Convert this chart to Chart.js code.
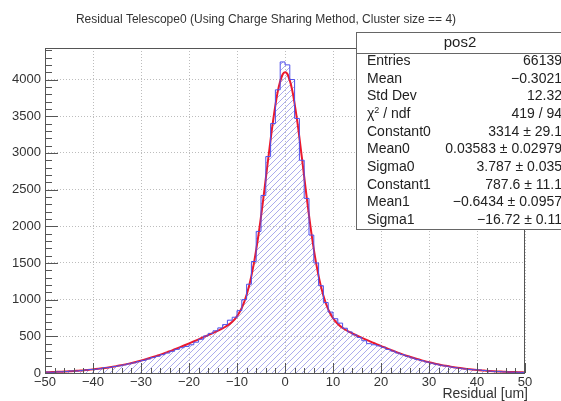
<!DOCTYPE html>
<html>
<head>
<meta charset="utf-8">
<script src="https://cdn.jsdelivr.net/npm/chart.js@4.4.1/dist/chart.umd.min.js"></script>
<style>
html, body { margin: 0; padding: 0; background: #fff; }
</style>
</head>
<body>
<canvas id="chart01" width="561" height="401"></canvas>
<script>
const histTitle = 'Residual Telescope0 (Using Charge Sharing Method, Cluster size == 4)';
const xTitle = 'Residual [um]';

// histogram: 100 bins of width 1 from -50 to 50
const binLow = -50;
const binWidth = 1;
const counts = [
    12, 10, 15, 17, 21, 28, 26, 33, 41, 47,
    51, 59, 72, 76, 88, 98, 110, 125, 138, 155,
    172, 190, 210, 228, 250, 272, 296, 322, 345, 362,
    385, 420, 460, 505, 540, 575, 615, 660, 720, 760,
    850, 1000, 1210, 1520, 1930, 2420, 2950, 3400, 3860, 4240,
    4200, 4000, 3470, 2900, 2380, 1880, 1500, 1190, 960, 830,
    740, 680, 610, 560, 520, 485, 440, 400, 385, 370,
    350, 322, 298, 272, 250, 228, 205, 186, 168, 150,
    134, 120, 106, 95, 82, 72, 64, 55, 48, 44,
    42, 34, 27, 22, 20, 16, 14, 11, 10, 8
];

// fit curve (red), read at bin centres
const fitX = [
    -50, -49.5, -48.5, -47.5, -46.5, -45.5, -44.5, -43.5, -42.5, -41.5, -40.5,
    -39.5, -38.5, -37.5, -36.5, -35.5, -34.5, -33.5, -32.5, -31.5, -30.5,
    -29.5, -28.5, -27.5, -26.5, -25.5, -24.5, -23.5, -22.5, -21.5, -20.5,
    -19.5, -18.5, -17.5, -16.5, -15.5, -14.5, -13.5, -12.5, -11.5, -10.5,
    -9.5, -8.5, -7.5, -6.5, -5.5, -4.5, -3.5, -2.5, -1.5, -0.5,
    0,
    0.5, 1.5, 2.5, 3.5, 4.5, 5.5, 6.5, 7.5, 8.5, 9.5,
    10.5, 11.5, 12.5, 13.5, 14.5, 15.5, 16.5, 17.5, 18.5, 19.5,
    20.5, 21.5, 22.5, 23.5, 24.5, 25.5, 26.5, 27.5, 28.5, 29.5,
    30.5, 31.5, 32.5, 33.5, 34.5, 35.5, 36.5, 37.5, 38.5, 39.5,
    40.5, 41.5, 42.5, 43.5, 44.5, 45.5, 46.5, 47.5, 48.5, 49.5, 50
];
const fitY = [
    10, 11, 13, 16, 18, 22, 25, 30, 34, 40, 46,
    53, 61, 69, 79, 90, 101, 114, 128, 143, 160,
    178, 197, 217, 238, 261, 285, 309, 335, 362, 389,
    417, 445, 474, 502, 531, 561, 592, 627, 670, 731,
    824, 966, 1182, 1488, 1893, 2384, 2919, 3431, 3839, 4069,
    4101,
    4075, 3856, 3456, 2945, 2405, 1906, 1491, 1175, 951, 801,
    704, 639, 593, 557, 525, 495, 466, 438, 409, 382,
    354, 328, 303, 278, 254, 232, 211, 191, 172, 155,
    139, 124, 110, 98, 87, 76, 67, 59, 51, 44,
    38, 33, 28, 24, 21, 18, 15, 13, 11, 9, 8
];

const xMin = -50, xMax = 50;
const yMin = 0, yMax = 4430;
const xTicks = [-50, -40, -30, -20, -10, 0, 10, 20, 30, 40, 50];
const yTicks = [0, 500, 1000, 1500, 2000, 2500, 3000, 3500, 4000];
const xMinor = 2, yMinor = 100;

const statName = 'pos2';
const statLabels = ['Entries', 'Mean', 'Std Dev', 'χ2 / ndf', 'Constant0', 'Mean0', 'Sigma0', 'Constant1', 'Mean1', 'Sigma1'];
const statValues = ['66139', '−0.3021', '12.32', '419 / 94', '3314 ± 29.1', '0.03583 ± 0.02979', '3.787 ± 0.035', '787.6 ± 11.1', '−0.6434 ± 0.0957', '−16.72 ± 0.11'];

const FONT = '"Liberation Sans", Arial, Helvetica, sans-serif';

const histData = counts.map((v, i) => ({x: binLow + i * binWidth, y: v}));
histData.push({x: binLow + counts.length * binWidth, y: counts[counts.length - 1]});

const fitData = fitX.map((x, i) => ({x: x, y: fitY[i]}));

function minus(v) {
    return String(v).replace('-', '−');
}

// hatched fill under the histogram, clipped to the dataset's own stepped path
const hatchFill = {
    id: 'hatchFill',
    beforeDatasetsDraw(chart) {
        const ctx = chart.ctx;
        const a = chart.chartArea;
        const meta = chart.getDatasetMeta(0);
        const pts = meta.data;
        const base = chart.scales.y.getPixelForValue(0);
        ctx.save();
        ctx.beginPath();
        meta.dataset.path(ctx);
        ctx.lineTo(pts[pts.length - 1].x, base);
        ctx.lineTo(pts[0].x, base);
        ctx.closePath();
        ctx.clip();
        ctx.strokeStyle = 'rgb(172,172,236)';
        ctx.lineWidth = 1;
        ctx.beginPath();
        const h = a.bottom - a.top;
        for (let k = a.left - h; k < a.right; k += 6) {
            ctx.moveTo(k, a.bottom);
            ctx.lineTo(k + h, a.top);
        }
        ctx.stroke();
        ctx.restore();
    }
};

const decor = {
    id: 'decor',
    afterDraw(chart) {
        const ctx = chart.ctx;
        const a = chart.chartArea;
        const xs = chart.scales.x, ys = chart.scales.y;
        ctx.save();
        // frame
        ctx.strokeStyle = '#555';
        ctx.lineWidth = 1;
        ctx.strokeRect(Math.round(a.left) + 0.5, Math.round(a.top) + 0.5, Math.round(a.right - a.left) - 1, Math.round(a.bottom - a.top));
        // ticks inside the frame
        ctx.beginPath();
        for (let v = yMin; v <= yMax; v += yMinor) {
            const y = Math.round(ys.getPixelForValue(v)) + 0.5;
            const len = yTicks.includes(v) ? 13 : 7;
            ctx.moveTo(a.left, y); ctx.lineTo(a.left + len, y);
        }
        for (let v = xMin; v <= xMax; v += xMinor) {
            const x = Math.round(xs.getPixelForValue(v)) + 0.5;
            const len = xTicks.includes(v) ? 10 : 5;
            ctx.moveTo(x, a.bottom); ctx.lineTo(x, a.bottom - len);
        }
        ctx.stroke();

        // titles
        ctx.fillStyle = '#333';
        ctx.font = '12px ' + FONT;
        ctx.textAlign = 'center';
        ctx.textBaseline = 'middle';
        ctx.fillText(histTitle, 266, 20);
        ctx.font = '14px ' + FONT;
        ctx.textAlign = 'right';
        ctx.fillText(xTitle, 528, 394);

        // stats box
        const bx = 356, by = 32, bw = 208, bh = 197;
        ctx.fillStyle = '#fff';
        ctx.fillRect(bx, by, bw, bh);
        ctx.strokeStyle = '#666';
        ctx.strokeRect(bx + 0.5, by + 0.5, bw, bh);
        ctx.beginPath();
        ctx.moveTo(bx, by + 21.5); ctx.lineTo(bx + bw, by + 21.5);
        ctx.stroke();
        ctx.fillStyle = '#222';
        ctx.font = '15px ' + FONT;
        ctx.textAlign = 'center';
        ctx.fillText(statName, 460, by + 11);
        ctx.font = '14px ' + FONT;
        statLabels.forEach((lab, i) => {
            const y = 61 + i * 17.7;
            ctx.textAlign = 'left';
            if (lab.startsWith('χ2')) {
                ctx.fillText('χ', 367, y);
                const w = ctx.measureText('χ').width;
                ctx.font = '9px ' + FONT;
                ctx.fillText('2', 367 + w, y - 4);
                const w2 = ctx.measureText('2').width;
                ctx.font = '14px ' + FONT;
                ctx.fillText(lab.slice(2), 367 + w + w2, y);
            } else {
                ctx.fillText(lab, 367, y);
            }
            ctx.textAlign = 'right';
            ctx.fillText(statValues[i], 562, y);
        });
        ctx.restore();
    }
};

new Chart(document.getElementById('chart01'), {
    type: 'line',
    data: {
        datasets: [
            {
                label: 'pos2',
                data: histData,
                stepped: 'before',
                borderColor: 'rgb(80,80,235)',
                borderWidth: 1,
                fill: false,
                pointRadius: 0
            },
            {
                label: 'fit',
                data: fitData,
                borderColor: 'rgb(235,25,45)',
                borderWidth: 2,
                cubicInterpolationMode: 'monotone',
                fill: false,
                pointRadius: 0
            }
        ]
    },
    options: {
        responsive: false,
        animation: false,
        layout: {
            padding: {top: 48, right: 36, left: 0, bottom: 0}
        },
        plugins: {
            legend: {display: false},
            tooltip: {enabled: false}
        },
        scales: {
            x: {
                type: 'linear',
                min: xMin,
                max: xMax,
                afterFit(s) { s.height = 28; },
                afterBuildTicks(s) { s.ticks = xTicks.map(v => ({value: v})); },
                ticks: {
                    autoSkip: false,
                    maxRotation: 0,
                    padding: 2,
                    color: '#333',
                    font: {family: FONT, size: 13},
                    callback: v => minus(v)
                },
                grid: {color: '#bdbdbd', drawTicks: false},
                border: {display: false, dash: [1, 2]}
            },
            y: {
                type: 'linear',
                min: yMin,
                max: yMax,
                afterFit(s) { s.width = 45; },
                afterBuildTicks(s) { s.ticks = yTicks.map(v => ({value: v})); },
                ticks: {
                    autoSkip: false,
                    padding: 4,
                    color: '#333',
                    font: {family: FONT, size: 13},
                    callback: v => String(v)
                },
                grid: {color: '#bdbdbd', drawTicks: false},
                border: {display: false, dash: [1, 2]}
            }
        }
    },
    plugins: [hatchFill, decor]
});
</script>
</body>
</html>
